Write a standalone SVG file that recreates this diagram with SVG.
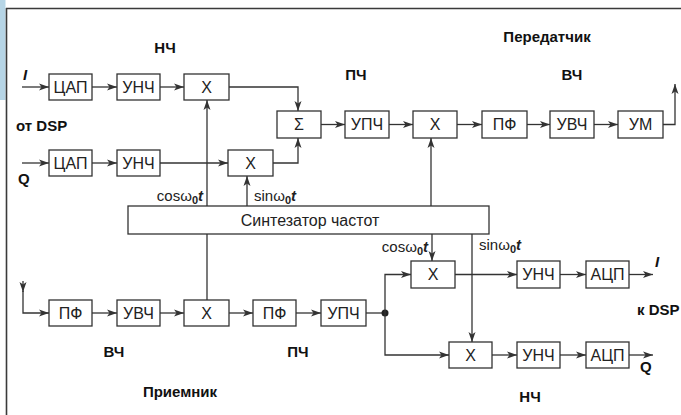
<svg xmlns="http://www.w3.org/2000/svg" width="681" height="415" viewBox="0 0 681 415">
<style>
.b{fill:#fff;stroke:#333;stroke-width:1.3}
.t{font-family:"Liberation Sans",Arial,sans-serif;font-size:16px;fill:#222;text-anchor:middle}
.l{font-family:"Liberation Sans",Arial,sans-serif;font-size:15px;font-weight:bold;fill:#111}
.f{font-family:"Liberation Sans",Arial,sans-serif;font-size:15px;fill:#222}
.c{fill:none;stroke:#333;stroke-width:1.3}
.a{marker-end:url(#ah)}
</style>
<defs>
<marker id="ah" markerUnits="userSpaceOnUse" markerWidth="11" markerHeight="8" refX="10" refY="4" orient="auto">
<path d="M0,0.5 L10,4 L0,7.5 L2.5,4 z" fill="#333"/>
</marker>
</defs>
<rect x="0" y="0" width="681" height="415" fill="#fff"/>
<rect x="0" y="0" width="5.5" height="100" fill="#b6d5e6"/>
<g id="frame">
<line x1="6" y1="8.5" x2="681" y2="8.5" stroke="#3a3a3a" stroke-width="1.6"/>
<line x1="6.5" y1="8" x2="6.5" y2="415" stroke="#3a3a3a" stroke-width="1.6"/>
</g>
<g id="connectors">
<path class="c a" d="M22,87 H49"/>
<path class="c a" d="M92,87 H117"/>
<path class="c a" d="M160,87 H184"/>
<path class="c a" d="M229,87 H298 V111"/>
<path class="c a" d="M22,163 H49"/>
<path class="c a" d="M92,163 H117"/>
<path class="c a" d="M160,163 H228"/>
<path class="c a" d="M273,163 H298 V138"/>
<path class="c a" d="M321,124.5 H345"/>
<path class="c a" d="M389,124.5 H413"/>
<path class="c a" d="M457,124.5 H482"/>
<path class="c a" d="M527,124.5 H550"/>
<path class="c a" d="M594,124.5 H618"/>
<path class="c a" d="M663,124.5 H675 V84"/>
<path class="c a" d="M207,206 V100"/>
<path class="c" d="M207,234 V300"/>
<path class="c a" d="M247,206 V176"/>
<path class="c a" d="M431,206 V138"/>
<path class="c a" d="M432,234 V261"/>
<path class="c a" d="M472,234 V342"/>
<path class="c a" d="M23,281 V292"/>
<path class="c a" d="M23,291 V313 H49"/>
<path class="c a" d="M92,313 H117"/>
<path class="c a" d="M160,313 H184"/>
<path class="c a" d="M229,313 H253"/>
<path class="c a" d="M296,313 H321"/>
<path class="c" d="M366,313 H385"/>
<circle cx="385" cy="313" r="3.5" fill="#222"/>
<path class="c a" d="M385,313 V274.5 H411"/>
<path class="c a" d="M385,313 V355 H449"/>
<path class="c a" d="M455,274.5 H517"/>
<path class="c a" d="M560,274.5 H586"/>
<path class="c a" d="M629,274.5 H653"/>
<path class="c a" d="M492,355 H517"/>
<path class="c a" d="M560,355 H586"/>
<path class="c a" d="M629,355 H653"/>
</g>
<g id="tx_dac_i"><rect class="b" x="49" y="74" width="43" height="26"/><text class="t" x="70.5" y="93">ЦАП</text></g>
<g id="tx_unch_i"><rect class="b" x="117" y="74" width="43" height="26"/><text class="t" x="138.5" y="93">УНЧ</text></g>
<g id="tx_mix_i"><rect class="b" x="184" y="74" width="45" height="26"/><text class="t" x="206.5" y="93">Х</text></g>
<g id="tx_dac_q"><rect class="b" x="49" y="150" width="43" height="26"/><text class="t" x="70.5" y="169">ЦАП</text></g>
<g id="tx_unch_q"><rect class="b" x="117" y="150" width="43" height="26"/><text class="t" x="138.5" y="169">УНЧ</text></g>
<g id="tx_mix_q"><rect class="b" x="228" y="150" width="45" height="26"/><text class="t" x="250.5" y="169">Х</text></g>
<g id="tx_sum"><rect class="b" x="277" y="111" width="44" height="27"/><text class="t" x="299" y="130">Σ</text></g>
<g id="tx_upch"><rect class="b" x="345" y="111" width="44" height="27"/><text class="t" x="367" y="130">УПЧ</text></g>
<g id="tx_mix"><rect class="b" x="413" y="111" width="44" height="27"/><text class="t" x="435" y="130">Х</text></g>
<g id="tx_pf"><rect class="b" x="482" y="111" width="45" height="27"/><text class="t" x="504.5" y="130">ПФ</text></g>
<g id="tx_uvch"><rect class="b" x="550" y="111" width="44" height="27"/><text class="t" x="572" y="130">УВЧ</text></g>
<g id="tx_um"><rect class="b" x="618" y="111" width="45" height="27"/><text class="t" x="640.5" y="130">УМ</text></g>
<g id="synth"><rect class="b" x="128" y="206" width="361" height="28"/><text class="t" x="310" y="226">Синтезатор частот</text></g>
<g id="rx_pf1"><rect class="b" x="49" y="300" width="43" height="26"/><text class="t" x="70.5" y="319">ПФ</text></g>
<g id="rx_uvch"><rect class="b" x="117" y="300" width="43" height="26"/><text class="t" x="138.5" y="319">УВЧ</text></g>
<g id="rx_mix"><rect class="b" x="184" y="300" width="45" height="26"/><text class="t" x="206.5" y="319">Х</text></g>
<g id="rx_pf2"><rect class="b" x="253" y="300" width="43" height="26"/><text class="t" x="274.5" y="319">ПФ</text></g>
<g id="rx_upch"><rect class="b" x="321" y="300" width="45" height="26"/><text class="t" x="343.5" y="319">УПЧ</text></g>
<g id="rx_mix_i"><rect class="b" x="411" y="261" width="44" height="27"/><text class="t" x="433" y="280">Х</text></g>
<g id="rx_unch_i"><rect class="b" x="517" y="261" width="43" height="27"/><text class="t" x="538.5" y="280">УНЧ</text></g>
<g id="rx_adc_i"><rect class="b" x="586" y="261" width="43" height="27"/><text class="t" x="607.5" y="280">АЦП</text></g>
<g id="rx_mix_q"><rect class="b" x="449" y="342" width="43" height="26"/><text class="t" x="470.5" y="361">Х</text></g>
<g id="rx_unch_q"><rect class="b" x="517" y="342" width="43" height="26"/><text class="t" x="538.5" y="361">УНЧ</text></g>
<g id="rx_adc_q"><rect class="b" x="586" y="342" width="43" height="26"/><text class="t" x="607.5" y="361">АЦП</text></g>
<g id="labels">
<text class="l" x="165" y="53" text-anchor="middle">НЧ</text>
<text class="l" x="16" y="131">от DSP</text>
<text class="l" x="23" y="80" font-style="italic" font-size="16">I</text>
<text class="l" x="18" y="184" font-size="17">Q</text>
<text class="l" x="356" y="80" text-anchor="middle">ПЧ</text>
<text class="l" x="547" y="42" text-anchor="middle">Передатчик</text>
<text class="l" x="572" y="80" text-anchor="middle">ВЧ</text>
<text class="f" x="203" y="201" text-anchor="end">cosω<tspan font-size="11" font-weight="bold" dy="3">0</tspan><tspan font-weight="bold" font-style="italic" dy="-3">t</tspan></text>
<text class="f" x="254" y="201">sinω<tspan font-size="11" font-weight="bold" dy="3">0</tspan><tspan font-weight="bold" font-style="italic" dy="-3">t</tspan></text>
<text class="f" x="428" y="252" text-anchor="end">cosω<tspan font-size="11" font-weight="bold" dy="3">0</tspan><tspan font-weight="bold" font-style="italic" dy="-3">t</tspan></text>
<text class="f" x="479" y="250">sinω<tspan font-size="11" font-weight="bold" dy="3">0</tspan><tspan font-weight="bold" font-style="italic" dy="-3">t</tspan></text>
<text class="l" x="655" y="267" font-style="italic" font-size="16">I</text>
<text class="l" x="637" y="315">к DSP</text>
<text class="l" x="640" y="372" font-size="17">Q</text>
<text class="l" x="530" y="402" text-anchor="middle">НЧ</text>
<text class="l" x="114" y="357" text-anchor="middle">ВЧ</text>
<text class="l" x="298" y="357" text-anchor="middle">ПЧ</text>
<text class="l" x="180" y="397" text-anchor="middle">Приемник</text>
</g>
</svg>
